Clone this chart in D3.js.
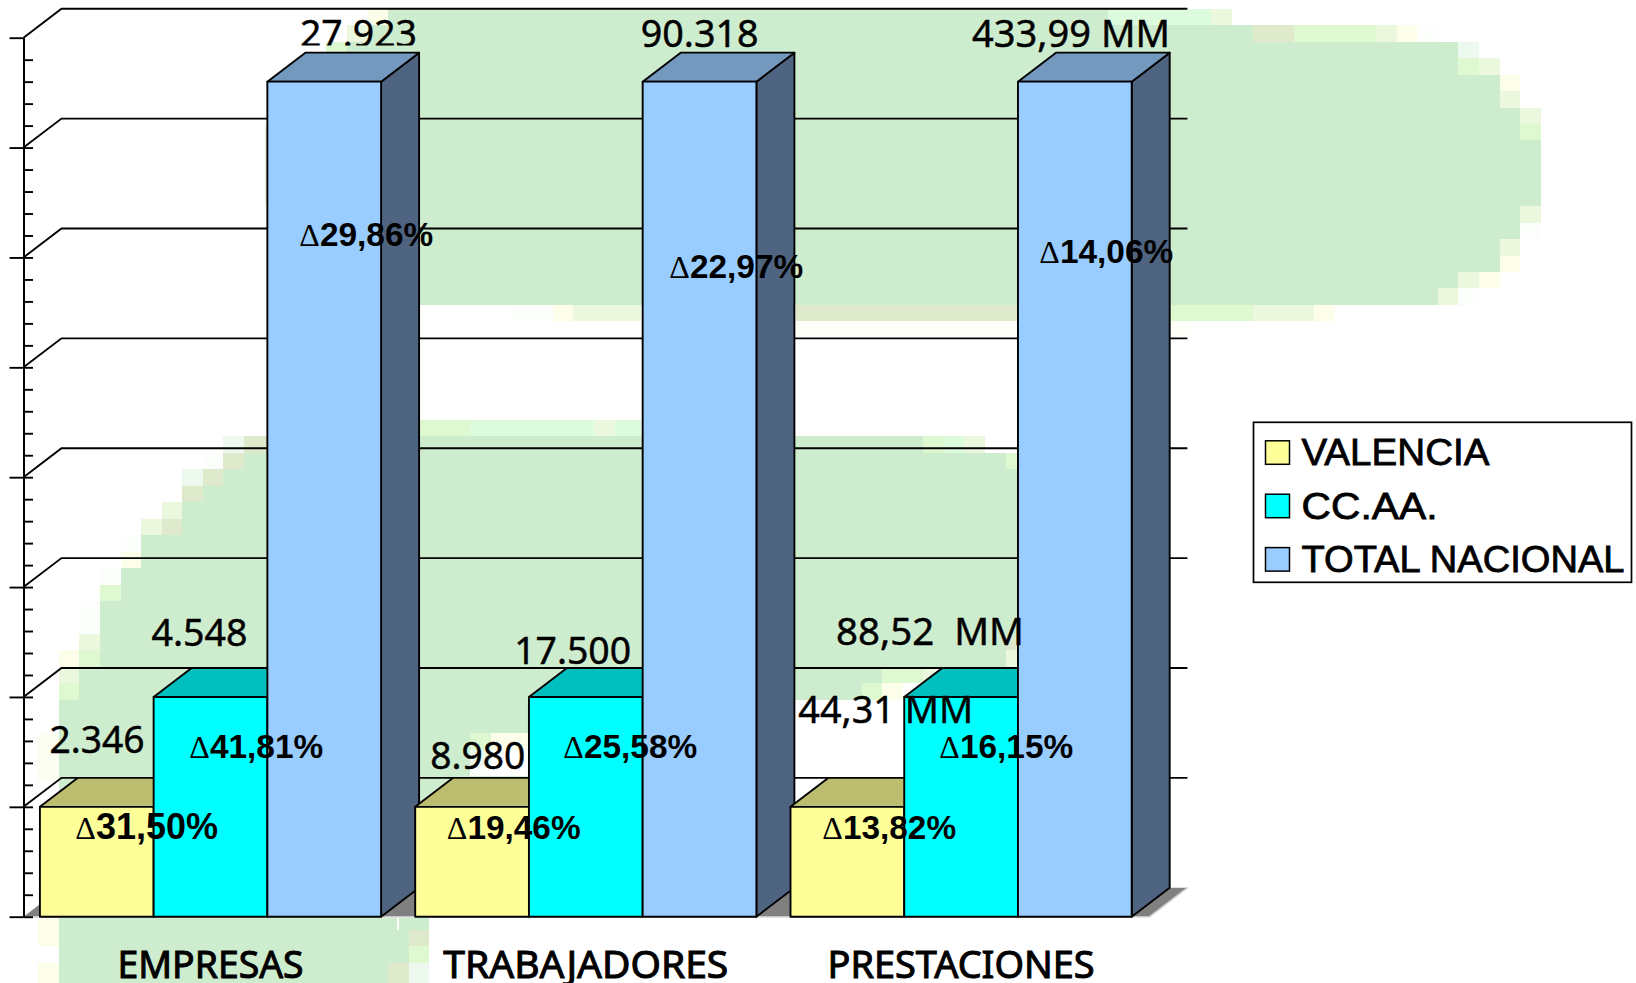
<!DOCTYPE html>
<html>
<head>
<meta charset="utf-8">
<script src="https://cdnjs.cloudflare.com/ajax/libs/d3/7.8.5/d3.min.js"></script>
<style>
body { margin: 0; background: #fff; }
.val { font-family: "Noto Sans", sans-serif; font-size: 37.5px; fill: #000; stroke: #000; stroke-width: .45px; white-space: pre; }
.cat { font-family: "Noto Sans", sans-serif; font-size: 37.5px; fill: #000; stroke: #000; stroke-width: 1px; }
.delta { font-family: "Liberation Sans", sans-serif; font-weight: bold; font-size: 33.4px; fill: #000; }
.delta tspan { font-family: "Liberation Serif", serif; font-weight: normal; font-size: 32px; }
.leg { font-family: "Liberation Sans", sans-serif; font-size: 37.6px; fill: #000; stroke: #000; stroke-width: .8px; }
</style>
</head>
<body>
<div id="chart-area"></div>
<script>
/*
*    3D clustered columns, drawn by hand because d3 has no 3D bars
*/

// Data
var categories = ["EMPRESAS", "TRABAJADORES", "PRESTACIONES"];
var seriesNames = ["VALENCIA", "CC.AA.", "TOTAL NACIONAL"];
var valencia = [1, 1, 1];
var ccaa = [2, 2, 2];
var totalNacional = [7.6, 7.6, 7.6];
var valenciaLabels = ["2.346", "8.980", "44,31 MM"];
var ccaaLabels = ["4.548", "17.500", "88,52  MM"];
var totalLabels = ["27.923", "90.318", "433,99 MM"];
var valenciaDeltas = ["31,50%", "19,46%", "13,82%"];
var ccaaDeltas = ["41,81%", "25,58%", "16,15%"];
var totalDeltas = ["29,86%", "22,97%", "14,06%"];
var majorTicks = [0, 1, 2, 3, 4, 5, 6, 7, 8];
var minorTicks = d3.range(0, 40).map(function(d) { return d / 5; });

// Layout
var width = 1636, height = 983;
var plot = { left: 23.5, right: 1149.4, top: 37.7, bottom: 916.7 };
var depth = { x: 38, y: 29 };
var colors = [
    { front: "#FFFF99", top: "#BDBD70", side: "#8C8C5A" },
    { front: "#00FFFF", top: "#00BFBF", side: "#008C8C" },
    { front: "#99CCFF", top: "#7399BF", side: "#4F6480" }
];

// label offsets from each bar's top left corner: [dx, dy], and fitted text widths
var valueOffsets = [
    [[9.6, -53.8], [15, -37.8], [7.8, -83.8]],
    [[-2.2, -51], [-14.8, -33], [-68.3, -52]],
    [[32.6, -34.6], [-2, -34.6], [-46, -34.6]]
];
var valueWidths = [
    [95, 95, 175],
    [96, 117, 188],
    [117, 118, 198]
];
var deltaOffsets = [
    [[35.4, 31.8], [31.6, 31.8], [31.8, 31.8]],
    [[35.7, 61.1], [34.4, 61.1], [35.1, 61.1]],
    [[32, 164.4], [26.7, 196.4], [21.4, 181.4]]
];
var categoryWidths = [186, 285, 267];
var legendWidths = [188, 136, 323];

// Pixelated green blobs of the background picture: [y0, y1, x0, x1, colour]
var G = "#CEECCE", P1 = "#DEF9CF", P2 = "#EBF8DE", P3 = "#FCFEE9", P4 = "#DDFBDD", P5 = "#DFEACD", P6 = "#EDF9EE", P7 = "#FBFEFA";
var backdrop = [
    // upper blob
    [9, 25, 388, 1108, G], [9, 25, 1108, 1211, P4], [9, 25, 1211, 1232, P2], [9, 25, 368, 388, P3],
    [25, 42, 368, 1253, G], [25, 42, 347, 368, P2], [25, 42, 1253, 1294, P5], [25, 42, 1294, 1376, P1],
    [25, 42, 1376, 1397, P2], [25, 42, 1397, 1417, P3], [25, 42, 1417, 1438, P7],
    [42, 58, 347, 1458, G], [42, 58, 326, 347, P1], [42, 58, 1458, 1479, P6],
    [58, 75, 300, 1458, G], [58, 75, 1458, 1479, P1], [58, 75, 1479, 1500, P2],
    [75, 91, 300, 1500, G], [75, 91, 1500, 1520, P3],
    [91, 108, 300, 1500, G], [91, 108, 1500, 1520, P2],
    [108, 124, 300, 1520, G], [108, 124, 1520, 1541, P2],
    [124, 140, 300, 1520, G], [124, 140, 1520, 1541, P1],
    [140, 206, 300, 1541, G],
    [206, 223, 300, 1520, G], [206, 223, 1520, 1541, P2],
    [223, 239, 300, 1520, G], [223, 239, 1520, 1541, P7],
    [239, 256, 300, 1500, G], [239, 256, 1500, 1520, P2],
    [256, 272, 300, 1500, G], [256, 272, 1500, 1520, P3],
    [272, 288, 300, 1458, G], [272, 288, 1458, 1479, P2], [272, 288, 1479, 1500, P3],
    [288, 305, 300, 1438, G], [288, 305, 1438, 1458, P2], [288, 305, 1458, 1479, P7],
    [305, 321, 512, 553, P7], [305, 321, 553, 573, P3], [305, 321, 573, 641, P2],
    [305, 321, 796, 1017, P5], [305, 321, 1170, 1253, P1], [305, 321, 1253, 1314, P2], [305, 321, 1314, 1335, P3],
    [321, 337, 796, 1190, "#FDFEF7"],
    [125, 205, 265, 268, P2],
    // lower blob
    [420, 436, 419, 470, P1], [420, 436, 470, 594, P4], [420, 436, 594, 615, P2], [420, 436, 615, 641, P4],
    [436, 453, 267, 923, G], [436, 453, 244, 267, P5], [436, 453, 223, 244, P6],
    [436, 453, 923, 945, P1], [436, 453, 945, 965, P4], [436, 453, 965, 985, P2],
    [453, 469, 244, 1006, G], [453, 469, 223, 244, P5], [453, 469, 203, 223, P7], [453, 469, 1006, 1017, P1],
    [469, 486, 223, 1017, G], [469, 486, 203, 223, P5], [469, 486, 182, 203, P6],
    [486, 502, 203, 1017, G], [486, 502, 182, 203, P5],
    [502, 519, 182, 1017, G], [502, 519, 162, 182, P2],
    [519, 535, 182, 1017, G], [519, 535, 162, 182, P5], [519, 535, 141, 162, P2],
    [535, 552, 141, 1017, G], [535, 552, 121, 141, P7],
    [552, 568, 141, 1017, G], [552, 568, 121, 141, P3],
    [568, 585, 121, 1017, G], [568, 585, 100, 121, P7],
    [585, 601, 121, 1017, G], [585, 601, 100, 121, P1],
    [601, 618, 100, 1017, G], [601, 618, 79, 100, P7],
    [618, 634, 100, 1017, G], [618, 634, 79, 100, P7],
    [634, 650, 100, 1006, G], [634, 650, 1006, 1017, P5], [634, 650, 79, 100, P2],
    [650, 667, 100, 1006, G], [650, 667, 1006, 1017, P2], [650, 667, 79, 100, P1], [650, 667, 59, 79, P3],
    [667, 683, 79, 882, G], [667, 683, 59, 79, P2], [667, 683, 882, 923, P1], [667, 683, 923, 935, P2],
    [683, 700, 79, 862, G], [683, 700, 59, 79, P1], [683, 700, 862, 882, P1], [683, 700, 882, 903, P3],
    [700, 733, 59, 528, G],
    [733, 750, 59, 470, G], [733, 750, 470, 491, P1], [733, 750, 491, 528, P3],
    [750, 766, 59, 470, G], [750, 766, 470, 491, P6],
    [766, 776, 59, 470, G], [766, 776, 470, 491, P7],
    [776, 917, 59, 528, G],
    [733, 782, 38, 59, "#FDFEF3"],
    // behind the first category name
    [918, 930, 59, 429, G], [918, 946, 38, 59, P3],
    [930, 946, 59, 409, G], [930, 946, 409, 429, P5],
    [946, 963, 59, 409, G], [946, 963, 409, 429, P1],
    [963, 983, 59, 388, G], [963, 983, 388, 409, P5], [963, 983, 409, 429, P6], [963, 983, 38, 59, P3],
    [918, 930, 397, 399, "#fff"]
];

var svg = d3.select("#chart-area").append("svg")
    .attr("width", width)
    .attr("height", height)
    .style("display", "block");

// the top label is cut by its bar in the original
svg.append("clipPath").attr("id", "cut-top")
    .append("rect").attr("x", 280).attr("y", 0).attr("width", 160).attr("height", 45.5);

// Scales
var y = d3.scaleLinear().domain([0, 8]).range([plot.bottom, plot.top]);
var x0 = d3.scaleBand().domain(categories).range([plot.left - 0.65, plot.right - 0.65])
    .paddingInner(1 / 11).paddingOuter(1 / 22);
var x1 = d3.scaleBand().domain(d3.range(3)).range([0, x0.bandwidth()]);

// Background
svg.append("g").selectAll("rect")
    .data(backdrop)
    .enter().append("rect")
    .attr("x", function(d) { return d[2]; })
    .attr("y", function(d) { return d[0]; })
    .attr("width", function(d) { return d[3] - d[2]; })
    .attr("height", function(d) { return d[1] - d[0]; })
    .attr("fill", function(d) { return d[4]; });

// Gridlines on both walls
var grid = svg.append("g")
    .attr("fill", "none")
    .attr("stroke", "#000")
    .attr("stroke-width", 1.9);
grid.selectAll("path")
    .data(majorTicks.slice(1))
    .enter().append("path")
    .attr("d", function(d) {
        return "M" + plot.left + "," + y(d) +
            "L" + (plot.left + depth.x) + "," + (y(d) - depth.y) +
            "H" + (plot.right + depth.x);
    });

// Floor
svg.append("path")
    .attr("d", "M" + plot.left + "," + plot.bottom +
        "L" + (plot.left + depth.x) + "," + (plot.bottom - depth.y) +
        "H" + (plot.right + depth.x) +
        "L" + plot.right + "," + plot.bottom + "Z")
    .attr("fill", "#808080");
svg.append("path")
    .attr("d", "M" + plot.left + "," + plot.bottom + "H" + plot.right + "L" + (plot.right + depth.x) + "," + (plot.bottom - depth.y))
    .attr("fill", "none")
    .attr("stroke", "#c8c8c8")
    .attr("stroke-width", 1.5);

// Axis
var axisG = svg.append("g").attr("transform", "translate(" + plot.left + ",0)");
axisG.append("g")
    .call(d3.axisLeft(y).tickValues(minorTicks).tickSizeInner(-9.5).tickSizeOuter(0).tickFormat(""));
axisG.append("g")
    .call(d3.axisLeft(y).tickValues(majorTicks).tickSizeInner(14).tickSizeOuter(0).tickFormat(""));
axisG.selectAll("path, line").attr("stroke", "#000").attr("stroke-width", 1.9);

// Bars, back to front left to right
var seriesValues = [valencia, ccaa, totalNacional];
var bars = svg.append("g")
    .attr("stroke", "#000")
    .attr("stroke-width", 1.9)
    .attr("stroke-linejoin", "round");

categories.forEach(function(cat, i) {
    seriesValues.forEach(function(values, s) {
        var bx = x0(cat) + x1(s), bw = x1.bandwidth(), top = y(values[i]), c = colors[s];
        var g = bars.append("g");
        g.append("path")
            .attr("d", "M" + (bx + bw) + "," + top + "l" + depth.x + "," + (-depth.y) +
                "V" + (plot.bottom - depth.y) + "L" + (bx + bw) + "," + plot.bottom + "Z")
            .attr("fill", c.side);
        g.append("path")
            .attr("d", "M" + bx + "," + top + "l" + depth.x + "," + (-depth.y) +
                "h" + bw + "l" + (-depth.x) + "," + depth.y + "Z")
            .attr("fill", c.top);
        g.append("rect")
            .attr("x", bx)
            .attr("y", top)
            .attr("width", bw)
            .attr("height", plot.bottom - top)
            .attr("fill", c.front);
    });
});

// Value and change labels
var valueLabels = [valenciaLabels, ccaaLabels, totalLabels];
var deltaLabels = [valenciaDeltas, ccaaDeltas, totalDeltas];
var labels = svg.append("g");
seriesValues.forEach(function(values, s) {
    categories.forEach(function(cat, i) {
        var bx = x0(cat) + x1(s), top = y(values[i]);
        var v = labels.append("text")
            .attr("class", "val")
            .attr("x", bx + valueOffsets[s][i][0])
            .attr("y", top + valueOffsets[s][i][1])
            .attr("textLength", valueWidths[s][i])
            .attr("lengthAdjust", "spacingAndGlyphs")
            .text(valueLabels[s][i]);
        if (s == 2 && i == 0) v.attr("clip-path", "url(#cut-top)");
        var t = labels.append("text")
            .attr("class", "delta")
            .attr("x", bx + deltaOffsets[s][i][0])
            .attr("y", top + deltaOffsets[s][i][1]);
        t.append("tspan").text("\u0394");
        t.append("tspan")
            .style("font-family", "'Liberation Sans', sans-serif")
            .style("font-weight", "bold")
            .style("font-size", (s == 0 && i == 0) ? "36px" : "33.4px")
            .text(deltaLabels[s][i]);
    });
});

// Category names
svg.append("g").selectAll("text")
    .data(categories)
    .enter().append("text")
    .attr("class", "cat")
    .attr("text-anchor", "middle")
    .attr("x", function(d) { return x0(d) + x0.bandwidth() / 2; })
    .attr("y", 978)
    .attr("textLength", function(d, i) { return categoryWidths[i]; })
    .attr("lengthAdjust", "spacingAndGlyphs")
    .text(function(d) { return d; });

// Legend
var legend = svg.append("g").attr("transform", "translate(1253.5,422.3)");
legend.append("rect")
    .attr("width", 378)
    .attr("height", 160)
    .attr("fill", "#fff")
    .attr("stroke", "#000")
    .attr("stroke-width", 1.7);
var rows = legend.selectAll(".row")
    .data(seriesNames)
    .enter().append("g")
    .attr("class", "row")
    .attr("transform", function(d, i) { return "translate(0," + (i * 53.4) + ")"; });
rows.append("rect")
    .attr("x", 12)
    .attr("y", 18.5)
    .attr("width", 24)
    .attr("height", 23.5)
    .attr("fill", function(d, i) { return colors[i].front; })
    .attr("stroke", "#000")
    .attr("stroke-width", 1.5);
rows.append("text")
    .attr("class", "leg")
    .attr("x", 48)
    .attr("y", 43.2)
    .attr("textLength", function(d, i) { return legendWidths[i]; })
    .attr("lengthAdjust", "spacingAndGlyphs")
    .text(function(d) { return d; });
</script>
</body>
</html>
